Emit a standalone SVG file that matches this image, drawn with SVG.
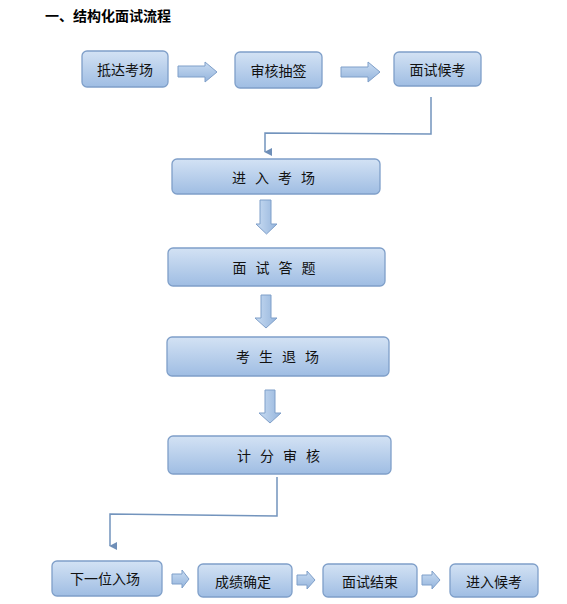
<svg xmlns="http://www.w3.org/2000/svg" width="567" height="604" viewBox="0 0 567 604">
<defs>
<linearGradient id="bg" x1="0" y1="0" x2="0" y2="1">
<stop offset="0" stop-color="#d3e2f4"/>
<stop offset="1" stop-color="#9fbde3"/>
</linearGradient>
<linearGradient id="ag" x1="0" y1="0" x2="0" y2="1">
<stop offset="0" stop-color="#c9dcf2"/>
<stop offset="1" stop-color="#94b4dc"/>
</linearGradient>
<linearGradient id="agv" x1="0" y1="0" x2="1" y2="0">
<stop offset="0" stop-color="#c9dcf2"/>
<stop offset="1" stop-color="#94b4dc"/>
</linearGradient>
<marker id="ah" viewBox="0 0 10 10" refX="5" refY="9" markerWidth="8" markerHeight="8" markerUnits="userSpaceOnUse" orient="auto-start-reverse">
<path d="M0,0 L10,0 L5,10 Z" fill="#6f8fb8"/>
</marker>
</defs>
<style>
.box{fill:url(#bg);stroke:#7f9fc9;stroke-width:1.3}
.t{font-family:"Noto Sans CJK SC","Liberation Sans",sans-serif;font-size:14px;fill:#111;text-anchor:middle;dominant-baseline:central}
.ts{letter-spacing:9px}
.ha{fill:url(#ag);stroke:#7f9fc9;stroke-width:1}
.va{fill:url(#agv);stroke:#7f9fc9;stroke-width:1}
.ln{fill:none;stroke:#7394bd;stroke-width:1.5}
.title{font-family:"Noto Sans CJK SC","Liberation Sans",sans-serif;font-size:14px;font-weight:bold;fill:#000}
</style>
<rect width="567" height="604" fill="#fff"/>
<text class="title" x="45" y="21">一、结构化面试流程</text>

<g id="n1"><rect class="box" x="82" y="51" width="86" height="36" rx="5"/><text class="t" x="125" y="69">抵达考场</text></g>
<g id="n2"><rect class="box" x="235" y="52" width="87" height="36" rx="5"/><text class="t" x="278.5" y="70">审核抽签</text></g>
<g id="n3"><rect class="box" x="394" y="52" width="87" height="34" rx="5"/><text class="t" x="437.5" y="69">面试候考</text></g>
<g id="n4"><rect class="box" x="172" y="159" width="208" height="35" rx="5"/><text class="t ts" x="278" y="177">进入考场</text></g>
<g id="n5"><rect class="box" x="168" y="248" width="217" height="38" rx="5"/><text class="t ts" x="278.5" y="267">面试答题</text></g>
<g id="n6"><rect class="box" x="167" y="337" width="222" height="39" rx="5"/><text class="t ts" x="282" y="356">考生退场</text></g>
<g id="n7"><rect class="box" x="168" y="436" width="223" height="38" rx="5"/><text class="t ts" x="283" y="455">计分审核</text></g>
<g id="n8"><rect class="box" x="52" y="561" width="110" height="35" rx="5"/><text class="t" x="105" y="578">下一位入场</text></g>
<g id="n9"><rect class="box" x="198" y="564" width="94" height="33" rx="5"/><text class="t" x="243" y="581">成绩确定</text></g>
<g id="n10"><rect class="box" x="323" y="564" width="94" height="33" rx="5"/><text class="t" x="370" y="581">面试结束</text></g>
<g id="n11"><rect class="box" x="450" y="564" width="88" height="33" rx="5"/><text class="t" x="494" y="581">进入候考</text></g>

<g id="connectors">
<path class="ha" d="M178,66 H205 V62 L217,72 L205,82 V77 H178 Z"/>
<path class="ha" d="M341,67 H368 V62 L380,72 L368,82 V77 H341 Z"/>
<path class="va" d="M260,200 H271 V224 H277 L266.5,234 L256,224 H260 Z"/>
<path class="va" d="M261,295 H271 V318 H277 L266,328 L255,318 H261 Z"/>
<path class="va" d="M265,390 H275 V413 H281 L270,423 L259,413 H265 Z"/>
<path class="ha" d="M172,574 H182 V570 L189,579 L182,588 V584 H172 Z"/>
<path class="ha" d="M297,575 H307 V571 L315,580 L307,589 V585 H297 Z"/>
<path class="ha" d="M422,575 H432 V571 L440,580 L432,589 V585 H422 Z"/>
<path class="ln" d="M431,97 V134 L265,133 V152" marker-end="url(#ah)"/>
<path class="ln" d="M277,477 V516 L110,514 V546" marker-end="url(#ah)"/>
</g>
</svg>
